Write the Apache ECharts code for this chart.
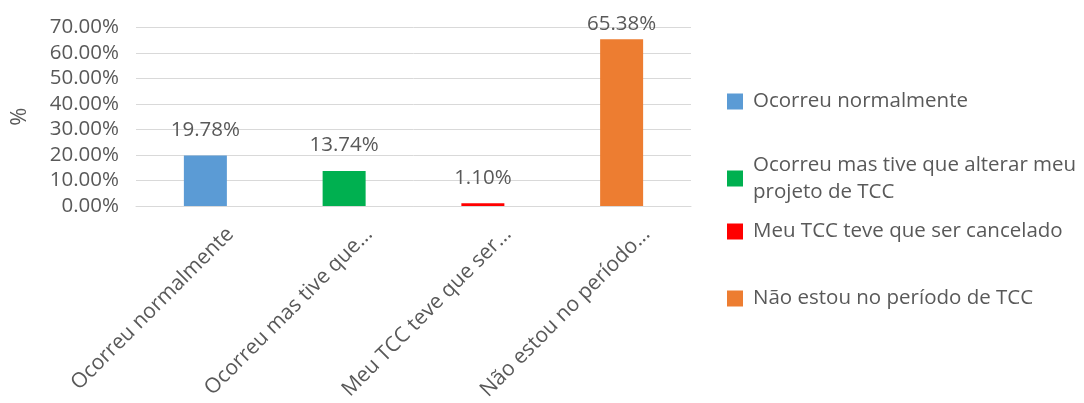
<!DOCTYPE html>
<html>
<head>
<meta charset="utf-8">
<script src="https://cdn.jsdelivr.net/npm/echarts@6/dist/echarts.min.js"></script>
<style>
html,body{margin:0;padding:0;background:#fff;}
#chart{width:1084px;height:403px;}
</style>
</head>
<body>
<div id="chart"></div>
<script>
const categories = [
  'Ocorreu normalmente',
  'Ocorreu mas tive que alterar meu projeto de TCC',
  'Meu TCC teve que ser cancelado',
  'Não estou no período de TCC'
];
const tickLabels = [
  'Ocorreu normalmente',
  'Ocorreu mas tive que...',
  'Meu TCC teve que ser...',
  'Não estou no período...'
];
const values = [19.78, 13.74, 1.10, 65.38];
const colors = ['#5B9BD5', '#00B050', '#FF0000', '#ED7D31'];
const legendLines = [
  'Ocorreu normalmente',
  'Ocorreu mas tive que alterar meu\nprojeto de TCC',
  'Meu TCC teve que ser cancelado',
  'Não estou no período de TCC'
];
const yAxisName = '%';

const FONT = 'Open Sans';
const TXT = '#595959';
const FS = 20.5;

const legendTops = [83, 133, 213, 280];

const series = categories.map((name, i) => ({
  name: name,
  type: 'bar',
  stack: 'all',
  xAxisIndex: 0,
  yAxisIndex: 0,
  barWidth: 43,
  itemStyle: { color: colors[i] },
  label: {
    show: true,
    position: 'top',
    distance: i === 3 ? 5 : 15,
    color: TXT,
    fontFamily: FONT,
    fontSize: FS,
    formatter: p => p.value.toFixed(2) + '%'
  },
  data: categories.map((c, j) => (j === i ? values[j] : null))
}));

const legends = categories.map((name, i) => ({
  data: [name],
  left: 722,
  top: legendTops[i],
  orient: 'vertical',
  itemWidth: 16,
  itemHeight: 16,
  icon: 'rect',
  selectedMode: false,
  formatter: () => legendLines[i],
  textStyle: {
    color: TXT,
    fontFamily: FONT,
    fontSize: FS,
    lineHeight: 27,
    padding: i === 1 ? [27, 0, 0, 5] : [0, 0, 0, 5]
  }
}));

const chart = echarts.init(document.getElementById('chart'), null, { renderer: 'canvas' });
chart.setOption({
  animation: false,
  backgroundColor: '#fff',
  grid: [
    { left: 136, right: 393, top: 27.5, bottom: 197 },
    { left: 161, right: 368, top: 27.5, bottom: 197 }
  ],
  legend: legends,
  xAxis: [
    {
      type: 'category',
      gridIndex: 0,
      data: tickLabels,
      axisLine: { show: true, lineStyle: { color: '#D9D9D9', width: 1 } },
      axisTick: { show: false },
      axisLabel: { show: false }
    },
    {
      type: 'category',
      gridIndex: 1,
      data: tickLabels,
      axisLine: { show: false },
      axisTick: { show: false },
      axisLabel: {
        show: true,
        rotate: 45,
        margin: 34,
        interval: 0,
        color: TXT,
        fontFamily: FONT,
        fontSize: 21
      }
    }
  ],
  yAxis: [
    {
      type: 'value',
      gridIndex: 0,
      min: 0,
      max: 70,
      interval: 10,
      name: yAxisName,
      nameLocation: 'middle',
      nameRotate: 90,
      nameGap: 105,
      nameTextStyle: { color: TXT, fontFamily: FONT, fontSize: 22 },
      axisLine: { show: false },
      axisTick: { show: false },
      splitLine: { lineStyle: { color: '#D9D9D9', width: 1 } },
      axisLabel: {
        margin: 17,
        color: TXT,
        fontFamily: FONT,
        fontSize: FS,
        formatter: v => v.toFixed(2) + '%'
      }
    },
    {
      type: 'value',
      gridIndex: 1,
      min: 0,
      max: 70,
      show: false
    }
  ],
  series: series
});
</script>
</body>
</html>
